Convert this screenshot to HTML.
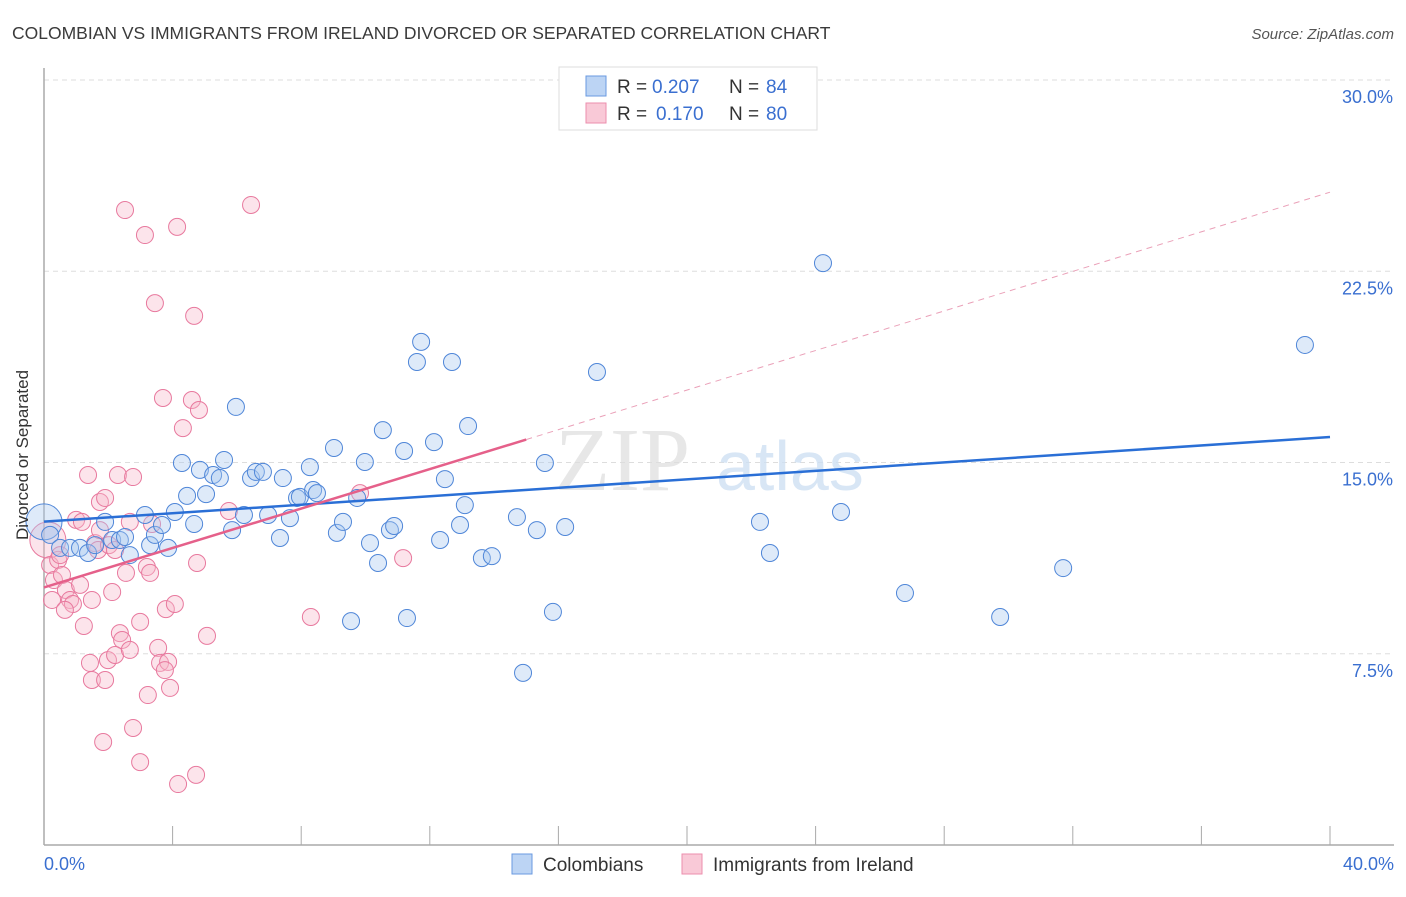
<!DOCTYPE html>
<html><head><meta charset="utf-8"><style>
body{margin:0;background:#fff;font-family:"Liberation Sans",sans-serif}
</style></head><body>
<svg width="1406" height="892" xmlns="http://www.w3.org/2000/svg">
<text x="12" y="39" font-size="17.5" fill="#3a3a3a">COLOMBIAN VS IMMIGRANTS FROM IRELAND DIVORCED OR SEPARATED CORRELATION CHART</text>
<text x="1394" y="39" font-size="15" fill="#555" font-style="italic" text-anchor="end">Source: ZipAtlas.com</text>
<g id="grid"></g>
<text x="690" y="490" font-size="90" fill="#ddd" font-family="Liberation Serif" text-anchor="end" opacity="0.7">ZIP</text>
<text x="716" y="490" font-size="70" fill="#cfe0f3" opacity="0.8">atlas</text>
<g id="pts"></g>
<g id="lines"></g>
<text x="28" y="455" font-size="17" fill="#333" text-anchor="middle" transform="rotate(-90 28 455)">Divorced or Separated</text>
<text x="44" y="870" font-size="18" fill="#3a6fd0">0.0%</text>
<text x="1394" y="870" font-size="18" fill="#3a6fd0" text-anchor="end">40.0%</text>
<g>
<rect x="559" y="67" width="258" height="63" fill="#fff" stroke="#ddd"/>
<rect x="586" y="76" width="20" height="20" fill="#bcd4f4" stroke="#6a9ae0"/>
<rect x="586" y="103" width="20" height="20" fill="#f9c9d7" stroke="#ec8eae"/>
<text x="617" y="93" font-size="19" fill="#333">R =</text>
<text x="652" y="93" font-size="19" fill="#3a6fd0">0.207</text>
<text x="729" y="93" font-size="19" fill="#333">N =</text>
<text x="766" y="93" font-size="19" fill="#3a6fd0">84</text>
<text x="617" y="120" font-size="19" fill="#333">R =</text>
<text x="656" y="120" font-size="19" fill="#3a6fd0">0.170</text>
<text x="729" y="120" font-size="19" fill="#333">N =</text>
<text x="766" y="120" font-size="19" fill="#3a6fd0">80</text>
</g>
<g>
<rect x="512" y="854" width="20" height="20" fill="#bcd4f4" stroke="#6a9ae0"/>
<text x="543" y="871" font-size="19" fill="#333">Colombians</text>
<rect x="682" y="854" width="20" height="20" fill="#f9c9d7" stroke="#ec8eae"/>
<text x="713" y="871" font-size="19" fill="#333">Immigrants from Ireland</text>
</g>
</svg>
<script>
const yTicks=[7.5,15,22.5,30];
const yTickLabels=["7.5%","15.0%","22.5%","30.0%"];
const xTicks=[0,4,8,12,16,20,24,28,32,36,40];
const bluePx=[[44,522],[50,535],[60,548],[70,548],[80,548],[88,553],[95,545],[105,522],[112,540],[120,540],[125,537],[130,555],[145,515],[150,545],[155,535],[162,525],[168,548],[175,512],[182,463],[187,496],[194,524],[200,470],[206,494],[213,475],[220,478],[224,460],[232,530],[236,407],[244,515],[251,478],[256,472],[263,472],[268,515],[280,538],[283,478],[290,518],[297,498],[300,497],[310,467],[313,490],[317,493],[334,448],[337,533],[343,522],[351,621],[357,498],[365,462],[370,543],[378,563],[383,430],[390,530],[394,526],[404,451],[407,618],[417,362],[421,342],[434,442],[440,540],[445,479],[452,362],[460,525],[465,505],[468,426],[482,558],[492,556],[517,517],[523,673],[537,530],[545,463],[553,612],[565,527],[597,372],[760,522],[770,553],[823,263],[841,512],[905,593],[1000,617],[1063,568],[1305,345]];
const pinkPx=[[48,540],[50,565],[54,580],[58,560],[62,575],[66,590],[70,600],[73,604],[76,520],[80,585],[84,626],[88,475],[92,600],[95,543],[98,550],[100,502],[105,498],[109,545],[112,592],[115,550],[118,475],[120,633],[122,640],[125,210],[126,573],[130,522],[133,477],[140,622],[145,235],[147,567],[150,573],[152,524],[155,303],[158,648],[160,663],[163,398],[166,609],[168,662],[170,688],[175,604],[177,227],[183,428],[192,400],[194,316],[197,563],[199,410],[207,636],[229,511],[251,205],[311,617],[360,493],[403,558],[103,742],[133,728],[140,762],[178,784],[196,775],[92,680],[105,680],[90,663],[108,660],[115,655],[130,650],[148,695],[165,670],[82,522],[60,555],[52,600],[65,610],[100,530]];
const blueX=bluePx.map(p=>+((p[0]-44)/32.15).toFixed(2)), blueY=bluePx.map(p=>+((845-p[1])/25.5).toFixed(2));
const pinkX=pinkPx.map(p=>+((p[0]-44)/32.15).toFixed(2)), pinkY=pinkPx.map(p=>+((845-p[1])/25.5).toFixed(2));
const blueLine=[[0,12.68],[40,16.0]];
const pinkLine=[[0,10.1],[15,15.9]];
const pinkDash=[[15,15.9],[40,25.6]];
const NS="http://www.w3.org/2000/svg";
const X=v=>44+v*32.15, Y=v=>845-v*25.5;
function mk(t,a,par){const e=document.createElementNS(NS,t);for(const k in a)e.setAttribute(k,a[k]);document.getElementById(par).appendChild(e);return e;}
yTicks.forEach((t,i)=>{
 const l=mk('line',{x1:44,x2:1394,y1:Y(t),y2:Y(t),stroke:'#ddd','stroke-dasharray':'5,4'},'grid');
 
 
 const tx=mk('text',{x:1393,y:Y(t)+23,'font-size':18,fill:'#3a6fd0','text-anchor':'end'},'grid');
 tx.textContent=yTickLabels[i];
 
 
});
const ax=mk('line',{x1:44,x2:44,y1:68,y2:845,stroke:'#aaa','stroke-width':1.5},'grid');


const bx=mk('line',{x1:44,x2:1394,y1:845,y2:845,stroke:'#aaa','stroke-width':1.5},'grid');


xTicks.slice(1).forEach(t=>{
 const l=mk('line',{x1:X(t),x2:X(t),y1:826,y2:845,stroke:'#aaa'},'grid');
 
 
});
function pts(xs,ys,fill,stroke,name){
 xs.forEach((x,i)=>{
  const big=(i===0);
  const c=mk('circle',{cx:X(x),cy:Y(ys[i]),r:big?18:8.5,fill:fill,'fill-opacity':0.38,stroke:stroke,'stroke-width':1},'pts');
  
  
 });
}
pts(pinkX,pinkY,'#f6b8cb','#e8799e','ireland-point');
pts(blueX,blueY,'#a9c8f0','#4f86d8','colombian-point');
function ln(d,col,w,dash,name){
 const l=mk('line',{x1:X(d[0][0]),y1:Y(d[0][1]),x2:X(d[1][0]),y2:Y(d[1][1]),stroke:col,'stroke-width':w},'lines');
 if(dash)l.setAttribute('stroke-dasharray',dash);
 
 
}
ln(pinkDash,'#eaa0b8',1,'6,5','ireland-trend-extension');
ln(blueLine,'#2a6fd6',2.5,null,'colombian-trend-line');
ln(pinkLine,'#e5608a',2.5,null,'ireland-trend-line');
</script>
</body></html>
